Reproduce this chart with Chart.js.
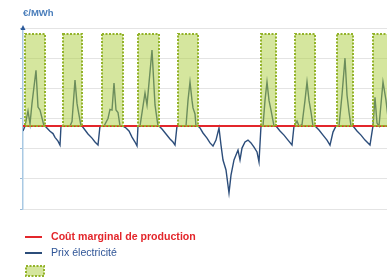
<!DOCTYPE html>
<html>
<head>
<meta charset="utf-8">
<script src="https://cdn.jsdelivr.net/npm/chart.js@4.4.1/dist/chart.umd.min.js"></script>
<style>
  html, body { margin: 0; padding: 0; background: #fff; }
  #wrap { width: 387px; height: 279px; position: relative; }
</style>
</head>
<body>
<div id="wrap"><canvas id="c"></canvas></div>
<script>
// time index (arbitrary units, no labels on the axis) and price values
const priceT = [0,2,5,7,9,13,15,17,21,22,27,30,32,35,37,
  38,40,47,49,52,54,55,58,59,62,65,69,72,75,
  77,81,85,87,89,91,93,95,97,100,103,106,109,112,114,
  115,117,122,124,129,132,135,136,139,143,147,150,152,
  154,163,165,167,169,170,172,173,175,177,180,184,187,190,193,196,198,200,203,206,208,211,213,215,217,219,222,225,228,231,234,236,
  238,240,242,244,246,248,251,253,257,261,265,269,
  271,274,276,279,282,284,286,288,290,292,296,300,304,307,
  310,313,316,319,322,324,326,328,330,334,338,342,347,
  349,350,352,354,356,360,363,366];
const priceVals = [51.7,55,65,56.4,70,92,67.6,65.6,55,55,51.5,50,47.5,45,42.4,
  55,55,55,58,85.5,70,66,55,55,52.4,49.7,47,44.4,42.4,
  55,55,60,66,65.6,83.5,65.6,64,55,55,53.7,51.7,47.7,44.4,41.8,
  55,55,77,69,105.4,69,55,55,53,49.7,46.4,44.4,42.4,
  55,55,72,84.2,72,67,63,55,55,53.7,50.4,47,43.8,41.8,45.7,53.7,42.4,32.5,25.9,10.6,22.5,32.5,35.8,39,32.5,40.4,44.4,45.7,43.8,41,37.8,31.2,
  55,55,72,84.2,72,65.6,55,55,51.7,49,45.7,42.4,
  55,58.3,55,56,72,84.2,72,64.3,55,55,52.4,49,45.7,42.4,
  51,55,55,75.6,100,75.6,64.3,55,55,51.7,49,45.7,42.4,
  51,55,74,57,55,84.2,72,55];
const marginalCost = 55;
const peakStart = [2, 40, 79, 115, 155, 238, 272, 314, 350];
const peakEnd   = [22, 59, 100, 136, 175, 253, 292, 330, 372];
const peakTop = 116;
const yTicks = [0, 20, 40, 60, 80, 100, 120];

const legendItems = [
  { text: 'Coût marginal de production', color: '#e3262b', kind: 'line', bold: true },
  { text: 'Prix électricité', color: '#2c4d7a', textColor: '#2f5597', kind: 'line', bold: false },
  { text: '', kind: 'box' }
];

const BOX_FILL = 'rgba(172,206,62,0.5)';
const BOX_EDGE = '#93b32a';

const peakBoxes = {
  id: 'peakBoxes',
  afterDatasetsDraw(chart) {
    const { ctx, scales: { x, y } } = chart;
    ctx.save();
    ctx.beginPath();
    ctx.rect(chart.chartArea.left, 0, chart.chartArea.right - chart.chartArea.left + 5, chart.height);
    ctx.clip();
    peakStart.forEach((s, i) => {
      const x0 = x.getPixelForValue(s), x1 = x.getPixelForValue(peakEnd[i]);
      const y0 = y.getPixelForValue(peakTop), y1 = y.getPixelForValue(marginalCost);
      ctx.fillStyle = BOX_FILL;
      ctx.fillRect(x0, y0, x1 - x0, y1 - y0);
      ctx.strokeStyle = BOX_EDGE;
      ctx.lineWidth = 2;
      ctx.setLineDash([2, 1.5]);
      ctx.strokeRect(x0, y0, x1 - x0, y1 - y0);
    });
    ctx.restore();
  },
  afterDraw(chart) {
    const { ctx, chartArea } = chart;
    ctx.save();
    // arrow on top of y axis
    ctx.fillStyle = '#2c5a9a';
    ctx.beginPath();
    ctx.moveTo(chartArea.left, chartArea.top - 3);
    ctx.lineTo(chartArea.left - 2.5, chartArea.top + 2);
    ctx.lineTo(chartArea.left + 2.5, chartArea.top + 2);
    ctx.closePath();
    ctx.fill();
    // unit label
    ctx.font = 'bold 9.5px "Liberation Sans", Arial, sans-serif';
    ctx.fillStyle = '#4a7ebb';
    ctx.textBaseline = 'middle';
    ctx.fillText('€/MWh', 23, 13);
    // legend
    let ly = 237;
    legendItems.forEach(it => {
      if (it.kind === 'line') {
        ctx.strokeStyle = it.color;
        ctx.lineWidth = 2;
        ctx.beginPath();
        ctx.moveTo(25, ly);
        ctx.lineTo(42, ly);
        ctx.stroke();
        ctx.font = (it.bold ? 'bold ' : '') + '10.6px "Liberation Sans", Arial, sans-serif';
        ctx.fillStyle = it.textColor || it.color;
        ctx.fillText(it.text, 51, ly);
      } else {
        ctx.fillStyle = BOX_FILL;
        ctx.fillRect(26, ly - 3, 18, 10);
        ctx.strokeStyle = BOX_EDGE;
        ctx.lineWidth = 2;
        ctx.setLineDash([2, 1.5]);
        ctx.strokeRect(26, ly - 3, 18, 10);
        ctx.setLineDash([]);
      }
      ly += 16;
    });
    ctx.restore();
  }
};

new Chart(document.getElementById('c'), {
  type: 'line',
  data: {
    datasets: [
      {
        label: 'Prix électricité',
        data: priceT.map((t, i) => ({ x: t, y: priceVals[i] })),
        borderColor: '#2c4d7a',
        borderWidth: 1.4,
        pointRadius: 0,
        tension: 0,
        order: 2
      },
      {
        label: 'Coût marginal de production',
        data: [{ x: 0, y: marginalCost }, { x: 364, y: marginalCost }],
        borderColor: '#e3262b',
        borderWidth: 2,
        pointRadius: 0,
        order: 1
      }
    ]
  },
  options: {
    responsive: true,
    maintainAspectRatio: false,
    animation: false,
    layout: { padding: { left: 0, right: 0, top: 28, bottom: 70 } },
    plugins: { legend: { display: false }, tooltip: { enabled: false } },
    scales: {
      x: { type: 'linear', min: 0, max: 364, display: false },
      y: {
        min: 0, max: 120,
        afterBuildTicks: s => { s.ticks = yTicks.map(v => ({ value: v })); },
        afterFit: s => { s.width = 23; },
        ticks: { display: false },
        grid: { color: '#e4e4e4', tickLength: 3, tickColor: '#9bb9d4' },
        border: { color: '#a9c9e3', width: 1.5 }
      }
    }
  },
  plugins: [peakBoxes]
});
</script>
</body>
</html>
